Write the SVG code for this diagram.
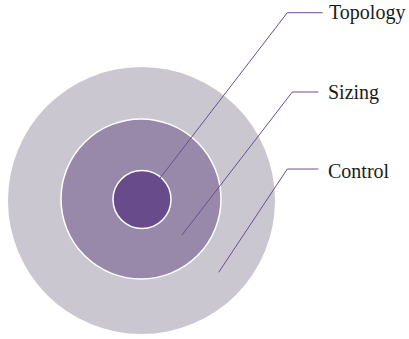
<svg xmlns="http://www.w3.org/2000/svg" width="409" height="339" viewBox="0 0 409 339">
<style>
.lbl{font-family:"Liberation Serif","Times New Roman",serif;font-size:20px;fill:#1a1a1a}
.ln{fill:none;stroke:#6a4f8e;stroke-width:1}
</style>
<rect width="409" height="339" fill="#ffffff"/>
<g id="control-ring"><circle cx="141.5" cy="200.5" r="133.5" fill="#cac7d0"/></g>
<g id="sizing-ring"><circle cx="141" cy="199" r="80" fill="#9888aa" stroke="#ffffff" stroke-width="1.5"/></g>
<g id="topology-core"><circle cx="142" cy="199.5" r="29" fill="#684b8a" stroke="#ffffff" stroke-width="1.5"/></g>
<g id="connectors">
<polyline class="ln" points="144,199 287.3,12.7 322.7,12.7"/>
<polyline class="ln" points="182,235 292.3,92 318.3,92"/>
<polyline class="ln" points="218.7,272.3 287.3,169 318.3,169"/>
</g>
<g id="label-topology"><text class="lbl" x="329" y="19">Topology</text></g>
<g id="label-sizing"><text class="lbl" x="328" y="99">Sizing</text></g>
<g id="label-control"><text class="lbl" x="328" y="177.7">Control</text></g>
</svg>
